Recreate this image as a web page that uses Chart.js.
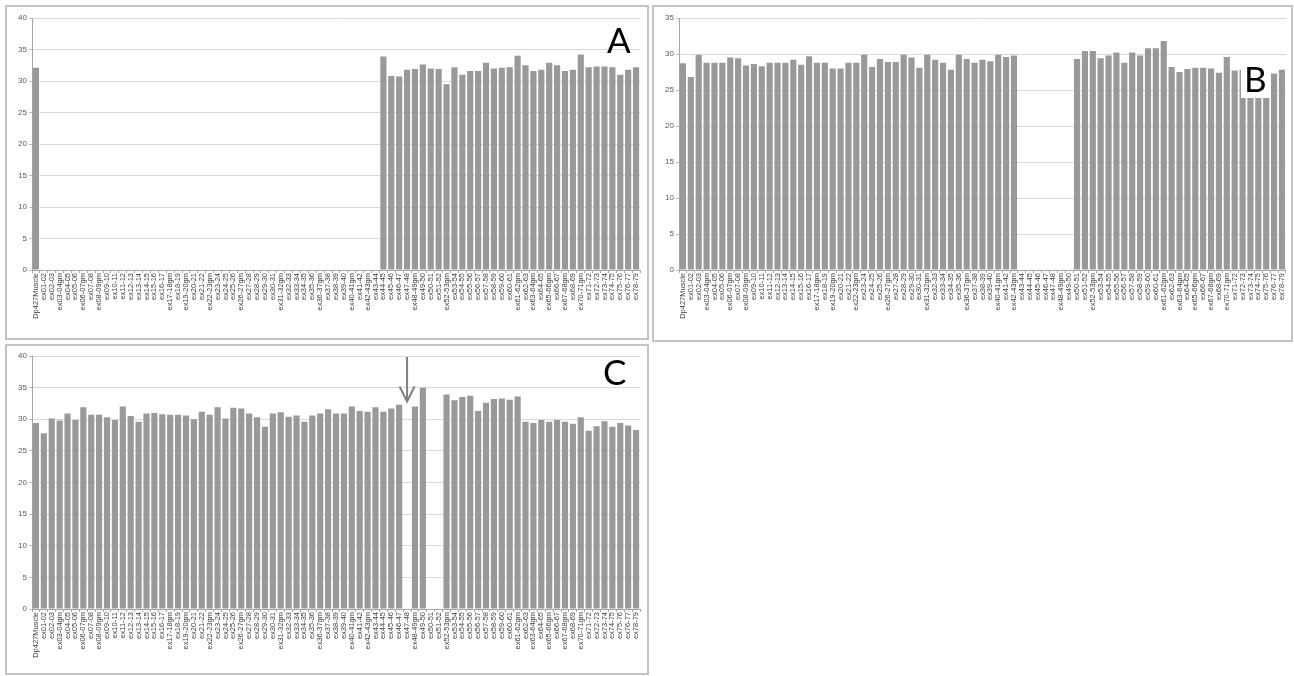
<!DOCTYPE html>
<html>
<head>
<meta charset="utf-8">
<script src="https://cdn.jsdelivr.net/npm/chart.js@4.4.1/dist/chart.umd.min.js"></script>
<style>
  body { margin: 0; background: #ffffff; width: 1294px; height: 676px; position: relative; overflow: hidden; }
  .panel { position: absolute; box-sizing: border-box; border: 2px solid #c4c4c4; }
  canvas { position: absolute; }
  .letter { position: absolute; font-family: Lato, "Open Sans", sans-serif; font-size: 35px; line-height: 1; color: #000; }
</style>
</head>
<body>
<div class="panel" style="left:5px;top:5px;width:644px;height:335px;"></div>
<div class="panel" style="left:652px;top:5px;width:641px;height:337px;"></div>
<div class="panel" style="left:5px;top:344px;width:644px;height:331px;"></div>
<canvas id="chartA"></canvas>
<canvas id="chartB"></canvas>
<canvas id="chartC"></canvas>
<div class="letter" style="left:607px;top:22px;">A</div>
<div class="letter" style="left:1241px;top:60px;background:#ffffff;padding:1px 3px 2px 3px;">B</div>
<div class="letter" style="left:603px;top:354px;">C</div>
<script>
// exon junction categories
var categorias = ["Dp427Muscle","ex01-02","ex02-03","ex03-04gm","ex04-05","ex05-06","ex06-07gm","ex07-08","ex08-09gm","ex09-10",
  "ex10-11","ex11-12","ex12-13","ex13-14","ex14-15","ex15-16","ex16-17","ex17-18gm","ex18-19","ex19-20gm",
  "ex20-21","ex21-22","ex22-23gm","ex23-24","ex24-25","ex25-26","ex26-27gm","ex27-28","ex28-29","ex29-30",
  "ex30-31","ex31-32gm","ex32-33","ex33-34","ex34-35","ex35-36","ex36-37gm","ex37-38","ex38-39","ex39-40",
  "ex40-41gm","ex41-42","ex42-43gm","ex43-44","ex44-45","ex45-46","ex46-47","ex47-48","ex48-49gm","ex49-50",
  "ex50-51","ex51-52","ex52-53gm","ex53-54","ex54-55","ex55-56","ex56-57","ex57-58","ex58-59","ex59-60",
  "ex60-61","ex61-62gm","ex62-63","ex63-64gm","ex64-65","ex65-66gm","ex66-67","ex67-68gm","ex68-69","ex70-71gm",
  "ex71-72","ex72-73","ex73-74","ex74-75","ex75-76","ex76-77","ex78-79"];

var valoresA = [32.1,
  null,null,null,null,null,null,null,null,null,null,
  null,null,null,null,null,null,null,null,null,null,
  null,null,null,null,null,null,null,null,null,null,
  null,null,null,null,null,null,null,null,null,null,
  null,null,null,
  33.9,30.8,30.7,31.8,31.9,32.6,32.0,31.9,29.5,32.2,
  31.0,31.6,31.6,32.9,32.0,32.1,32.2,34.0,32.5,31.6,
  31.8,32.9,32.5,31.6,31.8,34.2,32.2,32.3,32.3,32.2,
  31.0,31.8,32.2];

var valoresB = [28.7,26.8,29.9,28.8,28.8,28.8,29.5,29.4,28.4,28.6,
  28.3,28.8,28.8,28.8,29.2,28.5,29.7,28.8,28.8,28.0,
  28.0,28.8,28.8,29.9,28.2,29.3,28.9,28.9,29.9,29.5,
  28.1,29.9,29.2,28.8,27.8,29.9,29.3,28.8,29.2,29.0,
  29.9,29.6,29.8,
  null,null,null,null,null,null,null,
  29.3,30.4,30.4,29.4,29.8,30.2,28.8,30.2,29.8,30.8,
  30.8,31.8,28.2,27.5,27.9,28.1,28.1,28.0,27.4,29.6,
  27.7,27.8,27.8,27.9,27.8,27.3,27.8];

var valoresC = [29.4,27.8,30.1,29.8,30.9,29.9,31.9,30.7,30.7,30.3,
  29.9,32.0,30.5,29.6,30.9,31.0,30.8,30.7,30.7,30.6,
  30.0,31.2,30.7,31.9,30.1,31.8,31.7,30.9,30.3,28.8,
  30.9,31.1,30.4,30.6,29.6,30.6,30.9,31.6,30.9,30.9,
  32.0,31.3,31.2,31.9,31.2,31.7,32.3,
  null,32.0,35.0,null,null,
  33.9,33.0,33.5,33.7,31.3,32.6,33.2,33.3,33.1,33.6,
  29.6,29.4,29.9,29.6,29.9,29.6,29.3,30.3,28.2,28.9,
  29.7,28.8,29.4,29.0,28.3];

var ticksA = [0,5,10,15,20,25,30,35,40];
var ticksB = [0,5,10,15,20,25,30,35];
var ticksC = [0,5,10,15,20,25,30,35,40];
var flechaIndice = 47; // arrow marks ex47-48 in panel C
var flechaPunta = 32.8;

function crearGrafico(id, pos, valores, ticks, extra) {
  var canvas = document.getElementById(id);
  canvas.style.left = pos.left + 'px';
  canvas.style.top = pos.top + 'px';
  canvas.width = pos.width;
  canvas.height = pos.height;
  var maximo = ticks[ticks.length - 1];

  return new Chart(canvas, {
    type: 'bar',
    data: {
      labels: categorias,
      datasets: [{
        data: valores,
        backgroundColor: '#999999',
        borderWidth: 0,
        categoryPercentage: 1,
        barPercentage: 0.78
      }]
    },
    options: {
      responsive: false,
      animation: false,
      events: [],
      layout: { padding: { top: pos.padTop, right: pos.padRight, left: 0, bottom: 0 } },
      plugins: { legend: { display: false }, tooltip: { enabled: false } },
      scales: {
        y: {
          min: 0,
          max: maximo,
          afterBuildTicks: function (scale) {
            scale.ticks = ticks.map(function (v) { return { value: v }; });
          },
          afterFit: function (scale) { scale.width = pos.yWidth; },
          grid: { color: '#d9d9d9', lineWidth: 1, tickLength: 3, tickColor: '#bfbfbf' },
          border: { display: true, color: '#a6a6a6', width: 1 },
          ticks: {
            padding: 2,
            color: '#595959',
            font: { family: 'Liberation Sans, Arial, sans-serif', size: 8 }
          }
        },
        x: {
          afterFit: function (scale) { scale.height = pos.xHeight; },
          grid: { drawOnChartArea: false, drawTicks: true, tickLength: 3, color: '#a6a6a6', offset: true },
          border: { display: true, color: '#a6a6a6', width: 1 },
          ticks: {
            autoSkip: false,
            maxRotation: 90,
            minRotation: 90,
            padding: 0,
            color: '#404040',
            font: { family: 'Liberation Sans, Arial, sans-serif', size: 7.5 }
          }
        }
      }
    },
    plugins: extra ? [extra] : []
  });
}

var flecha = {
  id: 'flecha',
  afterDraw: function (chart) {
    var ctx = chart.ctx;
    var x = chart.scales.x.getPixelForValue(flechaIndice);
    var yTope = chart.chartArea.top + 1;
    var yPunta = chart.scales.y.getPixelForValue(flechaPunta);
    ctx.save();
    ctx.strokeStyle = '#808080';
    ctx.lineWidth = 2;
    ctx.beginPath();
    ctx.moveTo(x, yTope);
    ctx.lineTo(x, yPunta);
    ctx.moveTo(x - 7.5, yPunta - 15);
    ctx.lineTo(x, yPunta);
    ctx.lineTo(x + 7.5, yPunta - 15);
    ctx.stroke();
    ctx.restore();
  }
};

crearGrafico('chartA', { left: 7, top: 7, width: 640, height: 331, padTop: 11, padRight: 7, yWidth: 25, xHeight: 68 }, valoresA, ticksA);
crearGrafico('chartB', { left: 654, top: 7, width: 637, height: 333, padTop: 11, padRight: 5, yWidth: 25, xHeight: 70 }, valoresB, ticksB);
crearGrafico('chartC', { left: 7, top: 346, width: 640, height: 327, padTop: 10, padRight: 7, yWidth: 25, xHeight: 64 }, valoresC, ticksC, flecha);
</script>
</body>
</html>
